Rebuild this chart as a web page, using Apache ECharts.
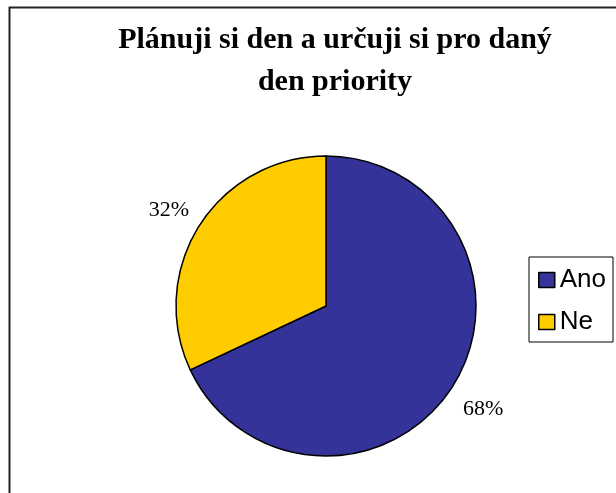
<!DOCTYPE html>
<html>
<head>
<meta charset="utf-8">
<script src="https://cdn.jsdelivr.net/npm/echarts@6/dist/echarts.min.js"></script>
<style>
  html, body { margin: 0; padding: 0; background: #fff; }
  #chart { width: 616px; height: 493px; }
</style>
</head>
<body>
<div id="chart"></div>
<script>
// Survey answers and their shares (percent)
const categories = ['Ano', 'Ne'];
const shares = [68, 32];
const sliceColors = ['#333399', '#FFCC00'];
const titleText = 'Plánuji si den a určuji si pro daný\nden priority';

const chart = echarts.init(document.getElementById('chart'), null, { renderer: 'canvas' });

const pieData = categories.map((name, i) => ({
  name: name,
  value: shares[i],
  itemStyle: { color: sliceColors[i] }
}));

const center = [326, 306];
const radius = 150;

chart.setOption({
  animation: false,
  backgroundColor: '#ffffff',
  graphic: [{
    type: 'rect',
    left: 7,
    top: 5,
    shape: { width: 700, height: 600 },
    style: { fill: 'none', stroke: '#222', lineWidth: 2 },
    silent: true,
    z: 100
  }],
  title: {
    text: titleText,
    left: 330,
    top: 14,
    textAlign: 'center',
    textStyle: {
      fontFamily: 'Liberation Serif',
      fontWeight: 'bold',
      fontSize: 30,
      lineHeight: 42,
      color: '#000'
    }
  },
  legend: {
    orient: 'vertical',
    left: 529,
    top: 257,
    width: 84,
    padding: [10, 7, 7, 9],
    itemWidth: 16,
    itemHeight: 15,
    itemGap: 16,
    itemTextGap: 4,
    borderColor: '#000',
    borderWidth: 1,
    icon: 'rect',
    data: categories,
    selectedMode: false,
    itemStyle: { borderColor: '#000', borderWidth: 1.5 },
    textStyle: {
      fontFamily: 'Liberation Sans',
      fontSize: 26,
      lineHeight: 26,
      color: '#000'
    }
  },
  series: [
    {
      type: 'pie',
      center: center,
      radius: radius,
      startAngle: 90,
      clockwise: true,
      silent: true,
      label: { show: false },
      labelLine: { show: false },
      itemStyle: { borderColor: '#000', borderWidth: 1.5 },
      data: pieData
    },
    {
      // invisible companion ring used only to place the percentage labels
      type: 'pie',
      center: [center[0], center[1] + 4],
      radius: [0, radius * 2.44],
      startAngle: 90,
      clockwise: true,
      silent: true,
      z: 1,
      itemStyle: { color: 'transparent', borderWidth: 0 },
      label: {
        show: true,
        position: 'inside',
        formatter: p => p.value + '%',
        fontFamily: 'Liberation Serif',
        fontSize: 22,
        color: '#000'
      },
      labelLine: { show: false },
      data: categories.map((name, i) => ({ name: name, value: shares[i] }))
    }
  ]
});
</script>
</body>
</html>
